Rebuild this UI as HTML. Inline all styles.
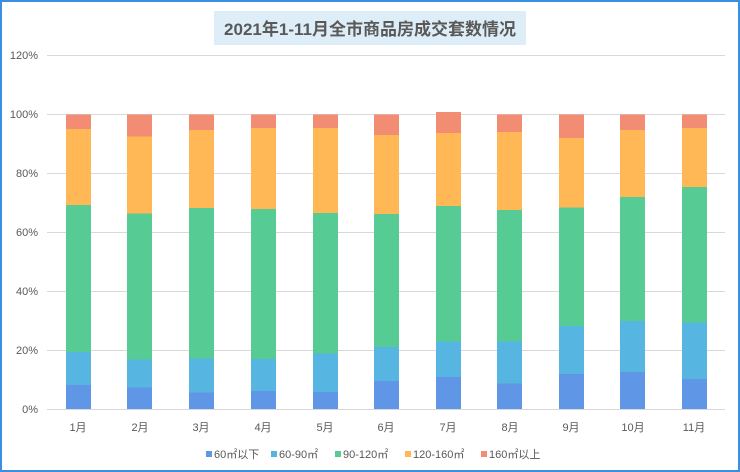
<!DOCTYPE html>
<html><head><meta charset="utf-8"><style>
html,body{margin:0;padding:0;background:#fff}
svg{display:block}
text{font-family:"Liberation Sans","Noto Sans CJK SC",sans-serif}
</style></head><body>
<svg width="740" height="472" xmlns="http://www.w3.org/2000/svg">
<rect x="1" y="1" width="738" height="470" fill="#fff" stroke="#3b8fe0" stroke-width="2"/>
<rect x="214" y="11" width="312" height="34" fill="#deeef8"/>
<text x="370" y="35" text-anchor="middle" font-size="17" font-weight="bold" fill="#595959">2021年1-11月全市商品房成交套数情况</text>
<g stroke="#d9d9d9" stroke-width="1">
<line x1="47" x2="725" y1="55.5" y2="55.5"/><line x1="47" x2="725" y1="114.5" y2="114.5"/>
<line x1="47" x2="725" y1="173.5" y2="173.5"/><line x1="47" x2="725" y1="232.5" y2="232.5"/>
<line x1="47" x2="725" y1="291.5" y2="291.5"/><line x1="47" x2="725" y1="350.5" y2="350.5"/>
<line x1="47" x2="725" y1="409.5" y2="409.5"/>
</g>
<g font-size="11" fill="#595959" text-anchor="end">
<text x="38" y="59">120%</text><text x="38" y="118">100%</text><text x="38" y="177">80%</text>
<text x="38" y="236">60%</text><text x="38" y="295">40%</text><text x="38" y="354">20%</text><text x="38" y="413">0%</text>
</g>
<g>
<g transform="translate(66,0)"><rect y="114.5" width="25" height="14.5" fill="#f28c72"/><rect y="129" width="25" height="76" fill="#ffb855"/><rect y="205" width="25" height="147" fill="#56cb93"/><rect y="352" width="25" height="33" fill="#57b5e2"/><rect y="385" width="25" height="24" fill="#6096e6"/></g>
<g transform="translate(127,0)"><rect y="114.5" width="25" height="22" fill="#f28c72"/><rect y="136.5" width="25" height="77" fill="#ffb855"/><rect y="213.5" width="25" height="146" fill="#56cb93"/><rect y="359.5" width="25" height="28" fill="#57b5e2"/><rect y="387.5" width="25" height="21.5" fill="#6096e6"/></g>
<g transform="translate(189,0)"><rect y="114.5" width="25" height="15.5" fill="#f28c72"/><rect y="130" width="25" height="78" fill="#ffb855"/><rect y="208" width="25" height="150.5" fill="#56cb93"/><rect y="358.5" width="25" height="34" fill="#57b5e2"/><rect y="392.5" width="25" height="16.5" fill="#6096e6"/></g>
<g transform="translate(251,0)"><rect y="114.5" width="25" height="13.5" fill="#f28c72"/><rect y="128" width="25" height="81" fill="#ffb855"/><rect y="209" width="25" height="150" fill="#56cb93"/><rect y="359" width="25" height="32" fill="#57b5e2"/><rect y="391" width="25" height="18" fill="#6096e6"/></g>
<g transform="translate(313,0)"><rect y="114.5" width="25" height="13.5" fill="#f28c72"/><rect y="128" width="25" height="85" fill="#ffb855"/><rect y="213" width="25" height="140.5" fill="#56cb93"/><rect y="353.5" width="25" height="38.5" fill="#57b5e2"/><rect y="392" width="25" height="17" fill="#6096e6"/></g>
<g transform="translate(374,0)"><rect y="114.5" width="25" height="20.5" fill="#f28c72"/><rect y="135" width="25" height="79" fill="#ffb855"/><rect y="214" width="25" height="133" fill="#56cb93"/><rect y="347" width="25" height="34" fill="#57b5e2"/><rect y="381" width="25" height="28" fill="#6096e6"/></g>
<g transform="translate(436,0)"><rect y="112" width="25" height="21" fill="#f28c72"/><rect y="133" width="25" height="73" fill="#ffb855"/><rect y="206" width="25" height="135.5" fill="#56cb93"/><rect y="341.5" width="25" height="35.5" fill="#57b5e2"/><rect y="377" width="25" height="32" fill="#6096e6"/></g>
<g transform="translate(497,0)"><rect y="114.5" width="25" height="17.5" fill="#f28c72"/><rect y="132" width="25" height="78" fill="#ffb855"/><rect y="210" width="25" height="131.5" fill="#56cb93"/><rect y="341.5" width="25" height="42" fill="#57b5e2"/><rect y="383.5" width="25" height="25.5" fill="#6096e6"/></g>
<g transform="translate(559,0)"><rect y="114.5" width="25" height="23.5" fill="#f28c72"/><rect y="138" width="25" height="69.5" fill="#ffb855"/><rect y="207.5" width="25" height="118.5" fill="#56cb93"/><rect y="326" width="25" height="48" fill="#57b5e2"/><rect y="374" width="25" height="35" fill="#6096e6"/></g>
<g transform="translate(620,0)"><rect y="114.5" width="25" height="15.5" fill="#f28c72"/><rect y="130" width="25" height="67" fill="#ffb855"/><rect y="197" width="25" height="124" fill="#56cb93"/><rect y="321" width="25" height="51" fill="#57b5e2"/><rect y="372" width="25" height="37" fill="#6096e6"/></g>
<g transform="translate(682,0)"><rect y="114.5" width="25" height="13.5" fill="#f28c72"/><rect y="128" width="25" height="59" fill="#ffb855"/><rect y="187" width="25" height="135.5" fill="#56cb93"/><rect y="322.5" width="25" height="56.5" fill="#57b5e2"/><rect y="379" width="25" height="30" fill="#6096e6"/></g>
</g>
<g font-size="11" fill="#595959" text-anchor="middle">
<text x="78" y="431">1月</text><text x="140" y="431">2月</text><text x="201" y="431">3月</text><text x="263" y="431">4月</text>
<text x="325" y="431">5月</text><text x="386" y="431">6月</text><text x="448" y="431">7月</text><text x="510" y="431">8月</text>
<text x="571" y="431">9月</text><text x="633" y="431">10月</text><text x="694" y="431">11月</text>
</g>
<g font-size="11" fill="#595959">
<rect x="206" y="451" width="6" height="6" fill="#6096e6"/><text x="214" y="458">60㎡以下</text>
<rect x="271" y="451" width="6" height="6" fill="#57b5e2"/><text x="279" y="458">60-90㎡</text>
<rect x="335" y="451" width="6" height="6" fill="#56cb93"/><text x="343" y="458">90-120㎡</text>
<rect x="405" y="451" width="6" height="6" fill="#ffb855"/><text x="413" y="458">120-160㎡</text>
<rect x="481" y="451" width="6" height="6" fill="#f28c72"/><text x="489" y="458">160㎡以上</text>
</g>
</svg>
</body></html>
